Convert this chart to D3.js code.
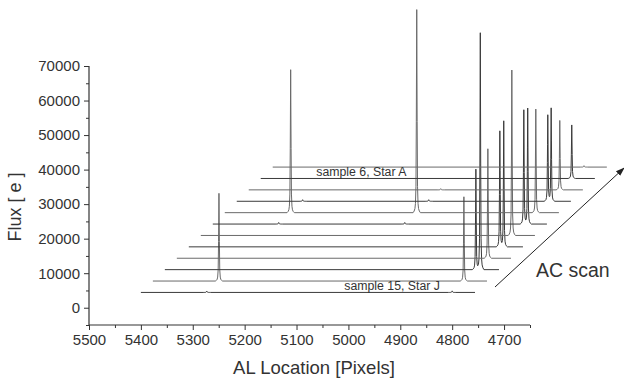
<!DOCTYPE html>
<html><head><meta charset="utf-8">
<script src="https://cdn.jsdelivr.net/npm/d3@7"></script>
<style>body{margin:0;background:#fff} text{font-family:"Liberation Sans",Arial,sans-serif;fill:#333}</style>
</head><body><svg id="c" width="624" height="379"></svg>
<script>
// ---- data ----
const xTickValues = [5500, 5400, 5300, 5200, 5100, 5000, 4900, 4800, 4700];
const yTickValues = [0, 10000, 20000, 30000, 40000, 50000, 60000, 70000];
const traces = [0,1,2,3,4,5,6,7,8,9,10,11];          // bottom (front) to top (back)
const traceStartAL = 5400, traceEndAL = 4756;        // AL range of every scan
const backgroundFlux = 4430;                         // baseline of the front scan
const waterfallAL = 23.1, waterfallFlux = 3300;      // offset between successive scans
// peaks: [trace, AL location, flux above background]
const peaks = [
  [1, 4800.5, 24400], [2, 4800.5, 29100], [3, 4800.5, 31700], [4, 4800.5, 33600],
  [5, 4800.5, 47900], [6, 4800.5, 33100], [7, 4800.5, 30000], [8, 4800.5, 25000],
  [9, 4800.5, 20100], [10, 4800.5, 15500],
  [2, 4792, 68600], [4, 4793, 36500], [6, 4793, 33600], [8, 4794, 27000],
  [1, 5272.6, 25400], [7, 5273, 41400], [7, 5030, 58800],
  [0, 5273, 400], [0, 4800, 450], [6, 5273, 450], [6, 5030, 450],
  [8, 5273, 450], [8, 5030, 450], [9, 5030, 350], [11, 4800, 400]
];
// line-spread profile: [AL offset, fraction of peak]
const lsf = [[-7,0],[-5,0.008],[-3.5,0.02],[-2.5,0.045],[-1.5,0.13],[-0.8,0.45],[0,1],
             [0.8,0.45],[1.5,0.13],[2.5,0.045],[3.5,0.02],[5,0.008],[7,0]];
const traceColors = ["#3a3a3a","#6a6a6a"];
const annotations = [
  {text:"sample 6, Star A", trace:10, al:5293},
  {text:"sample 15, Star J", trace:0, al:5008}
];

// ---- chart ----
const svg = d3.select("#c");
const x = d3.scaleLinear().domain([5500, 4650]).range([89, 530]);
const y = d3.scaleLinear().domain([-5000, 70000]).range([325, 66]);

function lsfAt(d){
  if (d <= lsf[0][0] || d >= lsf[lsf.length-1][0]) return 0;
  for (let k=1;k<lsf.length;k++){
    if (d <= lsf[k][0]){
      const a=lsf[k-1], b=lsf[k];
      return a[1] + (b[1]-a[1])*(d-a[0])/(b[0]-a[0]);
    }
  }
  return 0;
}

const line = d3.line().x(d=>x(d[0])).y(d=>y(d[1]));
traces.forEach(t => {
  const myPeaks = peaks.filter(p=>p[0]===t);
  let pts = [traceStartAL, traceEndAL];
  myPeaks.forEach(p => lsf.forEach(s => pts.push(p[1]+s[0])));
  pts = Array.from(new Set(pts)).sort((a,b)=>b-a);
  const data = pts.map(al => {
    let f = backgroundFlux + waterfallFlux*t;
    myPeaks.forEach(p => f += p[2]*lsfAt(al-p[1]));
    return [al - waterfallAL*t, f];
  });
  svg.append("path").attr("d", line(data)).attr("fill","none")
    .attr("stroke", traceColors[t%2]).attr("stroke-width",1);
});

annotations.forEach(a=>{
  svg.append("text").attr("x", x(a.al - waterfallAL*a.trace))
    .attr("y", y(backgroundFlux + waterfallFlux*a.trace) - 2.5)
    .attr("font-size", 12.3).text(a.text);
});

// axes
const xAxis = d3.axisBottom(x).tickValues(xTickValues).tickSize(5).tickPadding(4).tickFormat(d3.format("d"));
const xMinor = d3.axisBottom(x).tickValues(d3.range(5450, 4640, -100)).tickSize(3).tickFormat("");
const gx = svg.append("g").attr("transform","translate(0,325)").call(xAxis);
svg.append("g").attr("transform","translate(0,325)").call(xMinor).select(".domain").remove();
const yAxis = d3.axisLeft(y).tickValues(yTickValues).tickSize(5).tickPadding(4).tickFormat(d3.format("d"));
const yMinor = d3.axisLeft(y).tickValues(d3.range(-5000, 70001, 10000)).tickSize(3).tickFormat("");
const gy = svg.append("g").attr("transform","translate(89,0)").call(yAxis);
svg.append("g").attr("transform","translate(89,0)").call(yMinor).select(".domain").remove();
svg.selectAll(".domain").attr("stroke","#333").attr("stroke-width",1.2);
svg.selectAll(".tick line").attr("stroke","#333");
gx.selectAll(".tick text").attr("font-size",15).attr("fill","#333");
gy.selectAll(".tick text").attr("font-size",15).attr("fill","#333");
gx.select(".domain").attr("d","M89,0H530");
gy.select(".domain").attr("d","M0,66V325");

svg.append("text").attr("x",314).attr("y",374).attr("text-anchor","middle")
  .attr("font-size",18.5).text("AL Location [Pixels]");
svg.append("text").attr("transform","translate(21,207) rotate(-90)").attr("text-anchor","middle")
  .attr("font-size",18).text("Flux [ e ]");
svg.append("text").attr("x",536).attr("y",277).attr("font-size",19.5).text("AC scan");

svg.append("defs").append("marker").attr("id","ah").attr("viewBox","0 0 10 10")
  .attr("refX",9).attr("refY",5).attr("markerWidth",9).attr("markerHeight",9)
  .attr("orient","auto").append("path").attr("d","M0,1.5L10,5L0,8.5Z").attr("fill","#222");
svg.append("line").attr("x1",495).attr("y1",287).attr("x2",624).attr("y2",168)
  .attr("stroke","#222").attr("stroke-width",1).attr("marker-end","url(#ah)");
</script></body></html>
